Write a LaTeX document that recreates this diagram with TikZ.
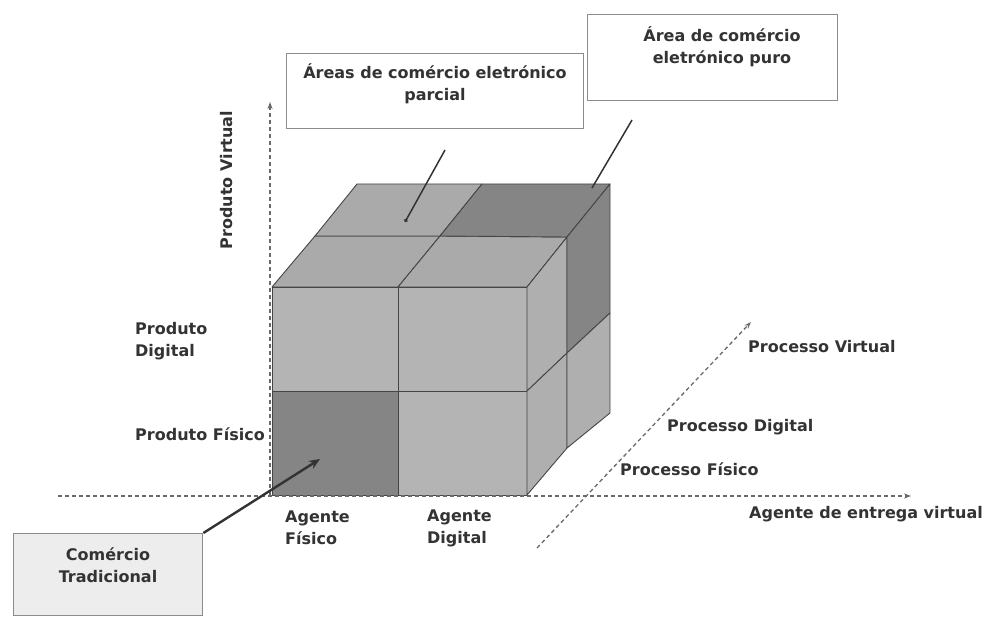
\documentclass[tikz,border=0pt]{standalone}
\usepackage{fontspec}
\setmainfont{DejaVu Sans}
\usetikzlibrary{arrows.meta}
\definecolor{txt}{HTML}{333333}
\definecolor{edge}{HTML}{454545}
\definecolor{frontc}{HTML}{B4B4B4}
\definecolor{topc}{HTML}{AAAAAA}
\definecolor{sidec}{HTML}{AFAFAF}
\definecolor{darkc}{HTML}{858585}
\definecolor{axisc}{HTML}{6A6A6A}
\tikzset{
  lbl/.style={font=\bfseries\fontsize{16}{22}\selectfont, text=txt, inner sep=0pt, align=left},
  cbox/.style={draw=black!45, line width=1.4pt, fill=white, inner sep=0pt, anchor=north west},
  cell/.style={draw=edge, line width=0.9pt, line join=round},
  axis/.style={draw=axisc, line width=1.3pt, dash pattern=on 4pt off 3pt, -{Stealth[length=7pt,width=5pt]}},
  pointer/.style={draw=black!80, line width=1.5pt},
}
\begin{document}
\begin{tikzpicture}[x=1pt,y=-1pt]
\useasboundingbox (0,0) rectangle (985,617);

% front face
\filldraw[cell, fill=darkc]  (272,391) rectangle (398,495);
\filldraw[cell, fill=frontc] (398,391) rectangle (527,495);
\filldraw[cell, fill=frontc] (272,287) rectangle (398,391);
\filldraw[cell, fill=frontc] (398,287) rectangle (527,391);

% top face
\filldraw[cell, fill=topc]  (272,287) -- (398,287) -- (440,236) -- (315,236) -- cycle;
\filldraw[cell, fill=topc]  (398,287) -- (527,287) -- (567,237) -- (440,236) -- cycle;
\filldraw[cell, fill=topc]  (315,236) -- (440,236) -- (482,184) -- (357,184) -- cycle;
\filldraw[cell, fill=darkc] (440,236) -- (567,237) -- (610,184) -- (482,184) -- cycle;

% right face
\filldraw[cell, fill=sidec] (527,287) -- (567,237) -- (567,353) -- (527,391) -- cycle;
\filldraw[cell, fill=darkc] (567,237) -- (610,184) -- (610,313) -- (567,353) -- cycle;
\filldraw[cell, fill=sidec] (527,391) -- (567,353) -- (567,448) -- (527,495) -- cycle;
\filldraw[cell, fill=sidec] (567,353) -- (610,313) -- (610,413) -- (567,448) -- cycle;

% axes
\coordinate (vy0) at (270,495);
\coordinate (vy1) at (270,102);
\coordinate (hx0) at (58,496);
\coordinate (hx1) at (911,496);
\coordinate (dz0) at (537,548);
\coordinate (dz1) at (751,322);
\draw[axis] (vy0) -- (vy1);
\draw[axis] (hx0) -- (hx1);
\draw[axis] (dz0) -- (dz1);

% axis labels
\node[lbl, rotate=90] (pvirt) at (227,180) {Produto Virtual};
\node[lbl, anchor=west] (pdig) at (135,341) {Produto\\Digital};
\node[lbl, anchor=west] (pfis) at (135,434) {Produto Físico};
\node[lbl, anchor=west] (afis) at (285,528) {Agente\\Físico};
\node[lbl, anchor=west] (adig) at (427,528) {Agente\\Digital};
\node[lbl, anchor=west] (prvirt) at (748,347) {Processo Virtual};
\node[lbl, anchor=west] (prdig) at (667,427) {Processo Digital};
\node[lbl, anchor=west] (prfis) at (620,469) {Processo Físico};
\node[lbl, anchor=west] (aent) at (749,514) {Agente de entrega virtual};

% callout boxes
\node[cbox, minimum width=297pt, minimum height=75pt] (parcial) at (286,53) {};
\node[lbl, align=center] (parcialtxt) at (435,84) {Áreas de comércio eletrónico\\parcial};
\node[cbox, minimum width=250pt, minimum height=86pt] (puro) at (587,14) {};
\node[lbl, align=center] (purotxt) at (722,47) {Área de comércio\\eletrónico puro};
\node[cbox, fill=black!7, minimum width=189pt, minimum height=82pt] (trad) at (13,533) {};
\node[lbl, align=center] (tradtxt) at (108,565) {Comércio\\Tradicional};

% pointers
\coordinate (pa0) at (445,150);
\coordinate (pa1) at (405,222);
\coordinate (pu0) at (632,120);
\coordinate (pu1) at (592,188);
\coordinate (tr1) at (320,459);
\draw[pointer, -{Circle[length=3.5pt]}] (pa0) -- (pa1);
\draw[pointer] (pu0) -- (pu1);
\draw[pointer, line width=2.4pt, -{Stealth[length=11pt,width=9pt]}] (trad.north east) -- (tr1);
\end{tikzpicture}
\end{document}
